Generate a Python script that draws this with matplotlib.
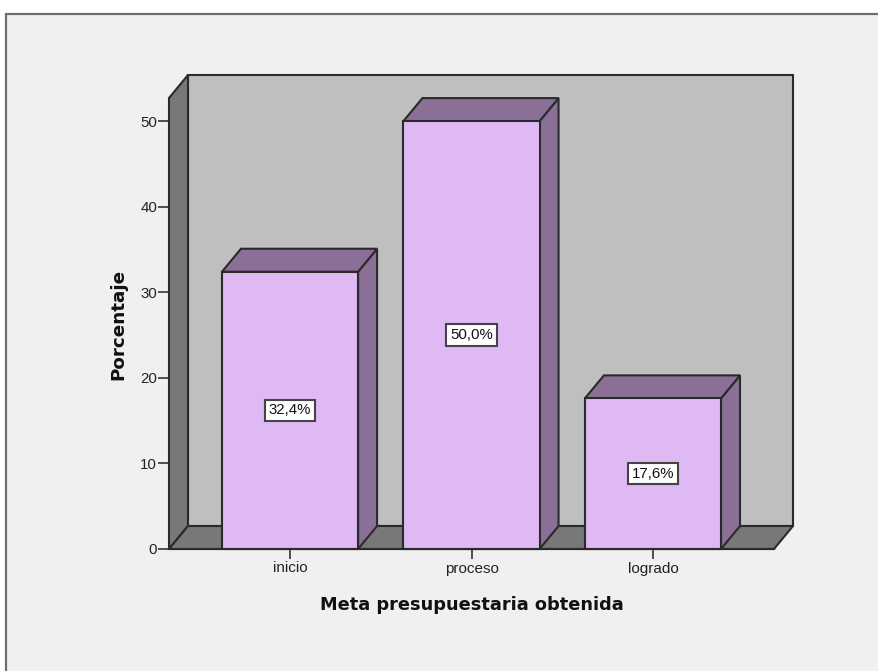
#!/usr/bin/env python3
"""Barras 3D (estilo SPSS): meta presupuestaria obtenida."""
import matplotlib
matplotlib.use("Agg")
import matplotlib.pyplot as plt
from matplotlib.patches import Polygon, Rectangle

CATEGORIES = ["inicio", "proceso", "logrado"]
VALUES = [32.4, 50.0, 17.6]
BAR_LABELS = ["32,4%", "50,0%", "17,6%"]
Y_TICKS = [0, 10, 20, 30, 40, 50]

W, H = 879, 671
EDGE = "#2a2a2a"
FACE = "#dfb9f3"
DARK = "#8a7096"
WALL = "#bfbfbf"
FLOOR = "#787878"
PANEL = "#f0f0f0"

DX, DY = 19 / 181.5, 23 / 8.56   # profundidad 3D en unidades de datos
XMIN, XMAX = -0.667, 2.667
YTOP = 52.7
BAR_W = 0.75


def face(ax, pts, color, z):
    ax.add_patch(Polygon(pts, closed=True, fc=color, ec=EDGE, lw=1.5, zorder=z,
                         clip_on=False, joinstyle="miter"))


fig = plt.figure(figsize=(W / 100, H / 100), dpi=100, facecolor="white")
# marco: solo se ven los lados izquierdo y superior, el resto queda fuera de la imagen
fig.add_artist(Rectangle((6 / W, -0.1), 1.1, 1.1 - 14 / H, transform=fig.transFigure,
                         fc=PANEL, ec="#6e6e6e", lw=1.6, zorder=-1))

ax = fig.add_axes([169 / W, (H - 549) / H, 605 / W, 451 / H])
ax.patch.set_alpha(0)
ax.set_xlim(XMIN, XMAX)
ax.set_ylim(0, YTOP)
for s in ax.spines.values():
    s.set_visible(False)

# paredes y suelo
face(ax, [(XMIN + DX, DY), (XMAX + DX, DY), (XMAX + DX, YTOP + DY), (XMIN + DX, YTOP + DY)], WALL, 1)
face(ax, [(XMIN, 0), (XMIN + DX, DY), (XMIN + DX, YTOP + DY), (XMIN, YTOP)], FLOOR, 1)
face(ax, [(XMIN, 0), (XMAX, 0), (XMAX + DX, DY), (XMIN + DX, DY)], FLOOR, 1)

# barras
for i, (v, lab) in enumerate(zip(VALUES, BAR_LABELS)):
    x0, x1 = i - BAR_W / 2, i + BAR_W / 2
    face(ax, [(x1, 0), (x1 + DX, DY), (x1 + DX, v + DY), (x1, v)], DARK, 2)
    face(ax, [(x0, v), (x1, v), (x1 + DX, v + DY), (x0 + DX, v + DY)], DARK, 2)
    face(ax, [(x0, 0), (x1, 0), (x1, v), (x0, v)], FACE, 3)
    ax.text(i, v / 2, lab, ha="center", va="center", fontsize=10.8, color="#111111",
            family="Liberation Sans", zorder=5,
            bbox=dict(boxstyle="square,pad=0.25", fc="white", ec="#444444", lw=1.5))

ax.plot([XMIN, XMAX], [0, 0], color=EDGE, lw=1.5, zorder=4, clip_on=False)

ax.set_xticks(range(len(CATEGORIES)), CATEGORIES)
ax.set_yticks(Y_TICKS)
ax.tick_params(axis="x", length=7, width=1.2, color="#333333", pad=2, labelsize=11, labelcolor="#222222")
ax.tick_params(axis="y", length=8, width=1.2, color="#333333", pad=0.5, labelsize=10.8, labelcolor="#222222")
for t in ax.get_xticklabels() + ax.get_yticklabels():
    t.set_family("Liberation Sans")

fig.text(472 / W, 1 - 605 / H, "Meta presupuestaria obtenida", ha="center", va="center",
         fontsize=12.8, fontweight="bold", family="DejaVu Sans", color="#111111")
fig.text(118 / W, 1 - 324 / H, "Porcentaje", ha="center", va="center", rotation=90,
         fontsize=13.2, fontweight="bold", family="DejaVu Sans", color="#111111")

fig.savefig("out.png", dpi=100, facecolor="white")
